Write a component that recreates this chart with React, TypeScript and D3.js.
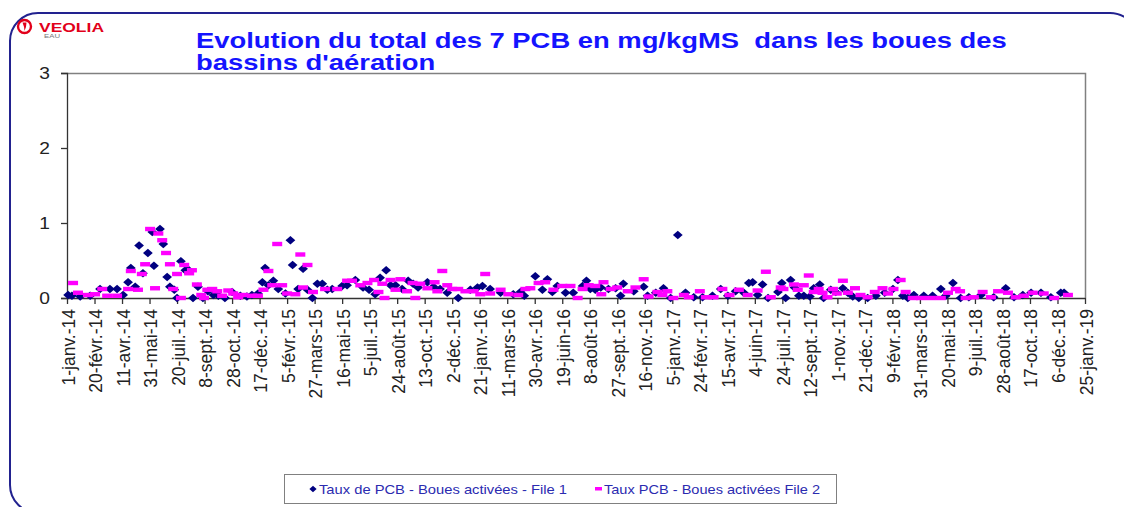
import React, { useEffect, useRef } from 'react';
import * as d3 from 'd3';

// x axis: one tick every 50 days from 1 Jan 2014
const xStart = '2014-01-01';
const xTickStep = 50;
const xTickLabels = [
  '1-janv.-14', '20-févr.-14', '11-avr.-14', '31-mai-14', '20-juil.-14', '8-sept.-14', '28-oct.-14', '17-déc.-14',
  '5-févr.-15', '27-mars-15', '16-mai-15', '5-juil.-15', '24-août-15', '13-oct.-15', '2-déc.-15',
  '21-janv.-16', '11-mars-16', '30-avr.-16', '19-juin-16', '8-août-16', '27-sept.-16', '16-nov.-16',
  '5-janv.-17', '24-févr.-17', '15-avr.-17', '4-juin-17', '24-juil.-17', '12-sept.-17', '1-nov.-17', '21-déc.-17',
  '9-févr.-18', '31-mars-18', '20-mai-18', '9-juil.-18', '28-août-18', '17-oct.-18', '6-déc.-18', '25-janv.-19',
];
const yTicks = [0, 1, 2, 3];

const titleLines = [
  'Evolution du total des 7 PCB en mg/kgMS  dans les boues des',
  "bassins d'aération",
];
const seriesNames = ['Taux de PCB - Boues activées - File 1', 'Taux PCB - Boues activées File 2'];

// Taux de PCB - Boues activées - File 1
const file1: [string, number][] = [
  ['2014-01-03', 0.04], ['2014-01-10', 0.03], ['2014-01-25', 0.02], ['2014-02-12', 0.03], ['2014-03-02', 0.12],
  ['2014-03-20', 0.12], ['2014-04-02', 0.12], ['2014-04-13', 0.04], ['2014-04-22', 0.21], ['2014-04-27', 0.40],
  ['2014-05-05', 0.15], ['2014-05-12', 0.70], ['2014-05-19', 0.33], ['2014-05-28', 0.60], ['2014-06-05', 0.88],
  ['2014-06-08', 0.43], ['2014-06-19', 0.92], ['2014-06-25', 0.72], ['2014-07-02', 0.28], ['2014-07-07', 0.15],
  ['2014-07-15', 0.11], ['2014-07-20', 0.00], ['2014-07-27', 0.49], ['2014-08-04', 0.37], ['2014-08-09', 0.38],
  ['2014-08-18', 0.00], ['2014-08-27', 0.15], ['2014-09-05', 0.00], ['2014-09-14', 0.09], ['2014-09-24', 0.04],
  ['2014-10-03', 0.03], ['2014-10-15', 0.00], ['2014-10-28', 0.08], ['2014-11-12', 0.03], ['2014-11-24', 0.02],
  ['2014-12-03', 0.04], ['2014-12-14', 0.06], ['2014-12-22', 0.21], ['2014-12-27', 0.40], ['2015-01-02', 0.17],
  ['2015-01-11', 0.23], ['2015-01-20', 0.12], ['2015-02-02', 0.06], ['2015-02-11', 0.77], ['2015-02-15', 0.44],
  ['2015-02-25', 0.12], ['2015-03-06', 0.39], ['2015-03-14', 0.11], ['2015-03-23', 0.00], ['2015-04-01', 0.19],
  ['2015-04-10', 0.19], ['2015-04-19', 0.11], ['2015-04-28', 0.12], ['2015-05-16', 0.16], ['2015-05-25', 0.17],
  ['2015-06-09', 0.24], ['2015-06-23', 0.14], ['2015-07-04', 0.11], ['2015-07-15', 0.05], ['2015-07-24', 0.27],
  ['2015-08-04', 0.37], ['2015-08-12', 0.17], ['2015-08-21', 0.17], ['2015-09-02', 0.12], ['2015-09-13', 0.23],
  ['2015-09-22', 0.19], ['2015-10-01', 0.14], ['2015-10-18', 0.21], ['2015-10-29', 0.15], ['2015-11-10', 0.12],
  ['2015-11-23', 0.07], ['2015-12-13', 0.00], ['2016-01-04', 0.11], ['2016-01-17', 0.14], ['2016-01-26', 0.16],
  ['2016-02-09', 0.12], ['2016-02-28', 0.07], ['2016-03-22', 0.05], ['2016-04-04', 0.08], ['2016-04-11', 0.03],
  ['2016-05-01', 0.29], ['2016-05-14', 0.11], ['2016-05-23', 0.25], ['2016-06-01', 0.08], ['2016-06-10', 0.16],
  ['2016-06-25', 0.07], ['2016-07-09', 0.07], ['2016-07-26', 0.16], ['2016-08-02', 0.23], ['2016-08-09', 0.12],
  ['2016-08-18', 0.11], ['2016-08-28', 0.14], ['2016-09-11', 0.12], ['2016-09-24', 0.13], ['2016-10-03', 0.03],
  ['2016-10-08', 0.19], ['2016-10-27', 0.09], ['2016-11-14', 0.15], ['2016-11-21', 0.03], ['2016-12-06', 0.07],
  ['2016-12-20', 0.13], ['2017-01-02', 0.00], ['2017-01-15', 0.84], ['2017-01-29', 0.07], ['2017-02-13', 0.01],
  ['2017-03-01', 0.01], ['2017-03-19', 0.03], ['2017-04-03', 0.12], ['2017-04-16', 0.03], ['2017-04-30', 0.09],
  ['2017-05-15', 0.07], ['2017-05-24', 0.20], ['2017-05-31', 0.21], ['2017-06-09', 0.04], ['2017-06-18', 0.18],
  ['2017-06-28', 0.00], ['2017-07-16', 0.08], ['2017-07-23', 0.20], ['2017-07-30', 0.00], ['2017-08-08', 0.24],
  ['2017-08-15', 0.14], ['2017-08-23', 0.03], ['2017-09-01', 0.03], ['2017-09-12', 0.02], ['2017-09-19', 0.13],
  ['2017-09-30', 0.18], ['2017-10-07', 0.00], ['2017-10-20', 0.11], ['2017-10-29', 0.08], ['2017-11-11', 0.13],
  ['2017-11-20', 0.07], ['2017-11-29', 0.02], ['2017-12-10', 0.00], ['2017-12-26', 0.00], ['2018-01-10', 0.03],
  ['2018-01-26', 0.07], ['2018-02-10', 0.12], ['2018-02-19', 0.24], ['2018-02-28', 0.03], ['2018-03-09', 0.00],
  ['2018-03-20', 0.04], ['2018-04-07', 0.03], ['2018-04-23', 0.03], ['2018-05-08', 0.12], ['2018-05-17', 0.03],
  ['2018-05-30', 0.20], ['2018-06-13', 0.00], ['2018-06-28', 0.01], ['2018-07-20', 0.04], ['2018-08-12', 0.01],
  ['2018-09-03', 0.13], ['2018-09-18', 0.01], ['2018-10-04', 0.04], ['2018-10-19', 0.07], ['2018-11-06', 0.07],
  ['2018-11-24', 0.01], ['2018-12-12', 0.07], ['2018-12-18', 0.07],
];

// Taux PCB - Boues activées File 2
const file2: [string, number][] = [
  ['2014-01-12', 0.20], ['2014-01-21', 0.07], ['2014-02-08', 0.04], ['2014-02-21', 0.05], ['2014-03-06', 0.12],
  ['2014-03-15', 0.03], ['2014-04-02', 0.03], ['2014-04-22', 0.12], ['2014-04-27', 0.36], ['2014-05-10', 0.11],
  ['2014-05-17', 0.32], ['2014-05-23', 0.45], ['2014-06-01', 0.92], ['2014-06-10', 0.13], ['2014-06-16', 0.86],
  ['2014-06-23', 0.77], ['2014-06-30', 0.60], ['2014-07-07', 0.45], ['2014-07-13', 0.12], ['2014-07-20', 0.32],
  ['2014-07-27', 0.00], ['2014-08-02', 0.44], ['2014-08-11', 0.33], ['2014-08-16', 0.37], ['2014-08-25', 0.18],
  ['2014-09-02', 0.04], ['2014-09-07', 0.00], ['2014-09-13', 0.11], ['2014-09-22', 0.12], ['2014-10-01', 0.09],
  ['2014-10-10', 0.03], ['2014-10-21', 0.10], ['2014-10-30', 0.06], ['2014-11-08', 0.01], ['2014-11-17', 0.04],
  ['2014-12-03', 0.03], ['2014-12-14', 0.03], ['2014-12-24', 0.11], ['2015-01-02', 0.36], ['2015-01-09', 0.17],
  ['2015-01-18', 0.72], ['2015-01-27', 0.17], ['2015-02-05', 0.06], ['2015-02-20', 0.05], ['2015-03-01', 0.58],
  ['2015-03-06', 0.14], ['2015-03-14', 0.44], ['2015-03-24', 0.08], ['2015-04-15', 0.12], ['2015-05-07', 0.12],
  ['2015-05-25', 0.23], ['2015-06-03', 0.23], ['2015-06-18', 0.17], ['2015-07-01', 0.20], ['2015-07-13', 0.24],
  ['2015-07-21', 0.08], ['2015-07-28', 0.19], ['2015-08-01', 0.00], ['2015-08-12', 0.24], ['2015-08-21', 0.11],
  ['2015-08-30', 0.25], ['2015-09-11', 0.09], ['2015-09-21', 0.20], ['2015-09-26', 0.00], ['2015-10-05', 0.19],
  ['2015-10-18', 0.13], ['2015-10-31', 0.21], ['2015-11-05', 0.09], ['2015-11-14', 0.36], ['2015-11-23', 0.17],
  ['2015-12-02', 0.12], ['2015-12-13', 0.12], ['2015-12-26', 0.09], ['2016-01-10', 0.09], ['2016-01-22', 0.05],
  ['2016-01-31', 0.32], ['2016-02-09', 0.06], ['2016-02-28', 0.11], ['2016-03-13', 0.05], ['2016-03-31', 0.04],
  ['2016-04-13', 0.12], ['2016-04-22', 0.13], ['2016-05-07', 0.20], ['2016-05-19', 0.21], ['2016-06-03', 0.11],
  ['2016-06-19', 0.16], ['2016-07-04', 0.16], ['2016-07-17', 0.00], ['2016-07-26', 0.12], ['2016-08-06', 0.17],
  ['2016-08-18', 0.16], ['2016-08-29', 0.05], ['2016-09-02', 0.21], ['2016-09-15', 0.12], ['2016-09-27', 0.14],
  ['2016-10-16', 0.09], ['2016-10-30', 0.14], ['2016-11-14', 0.25], ['2016-11-23', 0.02], ['2016-12-09', 0.08],
  ['2016-12-18', 0.04], ['2016-12-27', 0.09], ['2017-01-07', 0.00], ['2017-01-26', 0.04], ['2017-02-04', 0.01],
  ['2017-02-24', 0.09], ['2017-03-07', 0.01], ['2017-03-21', 0.01], ['2017-04-06', 0.12], ['2017-04-19', 0.04],
  ['2017-05-06', 0.11], ['2017-05-22', 0.04], ['2017-06-09', 0.10], ['2017-06-24', 0.35], ['2017-07-03', 0.01],
  ['2017-07-21', 0.14], ['2017-07-26', 0.12], ['2017-08-14', 0.18], ['2017-08-21', 0.11], ['2017-09-01', 0.17],
  ['2017-09-10', 0.30], ['2017-09-19', 0.08], ['2017-09-28', 0.12], ['2017-10-05', 0.07], ['2017-10-14', 0.01],
  ['2017-10-24', 0.12], ['2017-10-31', 0.06], ['2017-11-11', 0.23], ['2017-11-20', 0.07], ['2017-12-03', 0.13],
  ['2017-12-13', 0.04], ['2017-12-26', 0.01], ['2018-01-08', 0.08], ['2018-01-22', 0.13], ['2018-02-01', 0.06],
  ['2018-02-11', 0.12], ['2018-02-24', 0.24], ['2018-03-05', 0.08], ['2018-03-18', 0.00], ['2018-04-02', 0.00],
  ['2018-04-20', 0.00], ['2018-05-08', 0.00], ['2018-05-21', 0.07], ['2018-06-04', 0.12], ['2018-06-12', 0.09],
  ['2018-06-22', 0.00], ['2018-07-07', 0.01], ['2018-07-23', 0.08], ['2018-08-07', 0.01], ['2018-08-20', 0.09],
  ['2018-09-07', 0.07], ['2018-09-21', 0.01], ['2018-10-06', 0.03], ['2018-10-22', 0.07], ['2018-11-11', 0.06],
  ['2018-11-30', 0.00], ['2018-12-25', 0.04],
];

const WIDTH = 1124;
const HEIGHT = 507;
const FONT = '"Liberation Sans", Arial, sans-serif';
const NAVY = '#000080';
const MAGENTA = '#ff00ff';

export default function App() {
  const svgRef = useRef<SVGSVGElement>(null);

  useEffect(() => {
    const svg = d3.select(svgRef.current);
    svg.selectAll('*').remove();

    const parse = d3.utcParse('%Y-%m-%d');
    const start = parse(xStart) as Date;
    const tickDates = xTickLabels.map((_, i) => d3.utcDay.offset(start, i * xTickStep));

    const margin = { top: 73, right: 39, bottom: 209, left: 67 };
    const innerW = WIDTH - margin.left - margin.right;
    const innerH = HEIGHT - margin.top - margin.bottom;

    const x = d3.scaleUtc()
      .domain([start, tickDates[tickDates.length - 1]])
      .range([0, innerW]);
    const y = d3.scaleLinear().domain([0, 3]).range([innerH, 0]);

    // outer rounded frame
    svg.append('rect')
      .attr('x', 10).attr('y', 13)
      .attr('width', 1128).attr('height', 500)
      .attr('rx', 28)
      .attr('fill', 'white')
      .attr('stroke', '#22228f')
      .attr('stroke-width', 2);

    // logo
    const logo = svg.append('g');
    logo.append('circle').attr('cx', 24.5).attr('cy', 26.5).attr('r', 6.5)
      .attr('fill', 'none').attr('stroke', '#e2001a').attr('stroke-width', 2.4);
    logo.append('path')
      .attr('d', 'M22.5,22.5 Q24.5,27 24.5,31 Q26.5,27 26.5,22.5 Z')
      .attr('fill', '#e2001a');
    logo.append('text').attr('x', 39).attr('y', 31.5)
      .attr('textLength', 65).attr('lengthAdjust', 'spacingAndGlyphs')
      .style('font', `bold 12.5px ${FONT}`).attr('fill', '#e2001a').text('VEOLIA');
    logo.append('text').attr('x', 44).attr('y', 38)
      .attr('textLength', 16).attr('lengthAdjust', 'spacingAndGlyphs')
      .style('font', `5px ${FONT}`).attr('fill', '#777').text('EAU');

    // title (source font is wider than Arial)
    svg.append('g')
      .attr('transform', `translate(196,0) scale(1.245,1)`)
      .selectAll('text')
      .data(titleLines)
      .enter().append('text')
      .attr('x', 0)
      .attr('y', (_, i) => 48.5 + i * 21.5)
      .style('font', `bold 22px ${FONT}`)
      .style('white-space', 'pre')
      .attr('fill', '#1414ff')
      .text(d => d);

    const g = svg.append('g').attr('transform', `translate(${margin.left},${margin.top})`);

    // plot frame top / right
    g.append('path')
      .attr('d', `M0,0.5H${innerW}.5V${innerH}`)
      .attr('fill', 'none').attr('stroke', '#808080').attr('stroke-width', 1.5);

    // y axis
    const yAxis = g.append('g')
      .call(d3.axisLeft(y).tickValues(yTicks).tickSize(6).tickFormat(d3.format('d')));
    yAxis.selectAll('text')
      .style('font', `16px ${FONT}`)
      .attr('fill', '#222')
      .attr('x', 0)
      .attr('transform', 'translate(-17,0) scale(1.2,1)');
    yAxis.selectAll('path, line').attr('stroke', '#333').attr('stroke-width', 1.3);

    // x axis
    const xAxis = g.append('g')
      .attr('transform', `translate(0,${innerH})`)
      .call(d3.axisBottom(x).tickValues(tickDates).tickSize(6).tickSizeOuter(0)
        .tickFormat((_, i) => xTickLabels[i]));
    xAxis.selectAll('path, line').attr('stroke', '#333').attr('stroke-width', 1.3);
    xAxis.selectAll('text')
      .style('font', `17.5px ${FONT}`)
      .attr('fill', '#222')
      .attr('text-anchor', 'end')
      .attr('dy', '0.4em')
      .attr('x', -11)
      .attr('y', 0)
      .attr('transform', 'rotate(-90)');

    // series 1 : diamonds
    const square = d3.symbol().type(d3.symbolSquare).size(38);
    g.append('g').selectAll('path')
      .data(file1)
      .enter().append('path')
      .attr('d', square)
      .attr('transform', d => `translate(${x(parse(d[0]) as Date)},${y(d[1])}) scale(1.12,1) rotate(45)`)
      .attr('fill', NAVY);

    // series 2 : dashes
    g.append('g').selectAll('rect')
      .data(file2)
      .enter().append('rect')
      .attr('x', d => x(parse(d[0]) as Date) - 5)
      .attr('y', d => y(d[1]) - 2.2)
      .attr('width', 10)
      .attr('height', 4.4)
      .attr('fill', MAGENTA);

    // legend
    const legendX = [319, 604];
    const legendW = [248, 216];
    const lg = svg.append('g').attr('transform', 'translate(284,474)');
    lg.append('rect').attr('x', 0.5).attr('y', 0.5).attr('width', 552).attr('height', 29)
      .attr('fill', 'white').attr('stroke', '#808080');
    lg.append('path').attr('d', d3.symbol().type(d3.symbolSquare).size(22))
      .attr('transform', `translate(${legendX[0] - 284 - 6},15) scale(1.1,1) rotate(45)`).attr('fill', NAVY);
    lg.append('rect').attr('x', legendX[1] - 284 - 9).attr('y', 13).attr('width', 7).attr('height', 3.5)
      .attr('fill', MAGENTA);
    lg.selectAll('text.lab')
      .data(seriesNames)
      .enter().append('text')
      .attr('class', 'lab')
      .attr('x', (_, i) => legendX[i] - 284)
      .attr('y', 20)
      .attr('textLength', (_, i) => legendW[i])
      .attr('lengthAdjust', 'spacingAndGlyphs')
      .style('font', `13px ${FONT}`)
      .attr('fill', '#2b2bb0')
      .text(d => d);
  }, []);

  return (
    <div style={{ position: 'absolute', left: 0, top: 0 }}>
      <svg ref={svgRef} width={WIDTH} height={HEIGHT} style={{ display: 'block', background: 'white' }} />
    </div>
  );
}
